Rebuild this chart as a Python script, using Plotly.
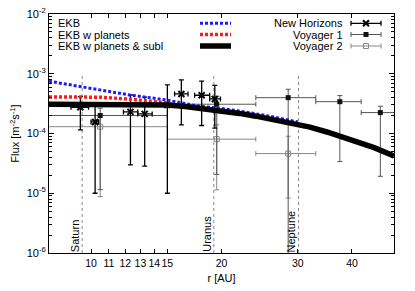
import math
import plotly.graph_objects as go

# ---------------- data ----------------
# model curves (r in AU, flux in m^-2 s^-1)
ekb_r = [8, 9.5, 12.3, 14.9, 17.8, 20, 22, 26, 30]
ekb_f = [7.5e-4, 6.0e-4, 4.4e-4, 3.65e-4, 2.85e-4, 2.62e-4, 2.38e-4, 1.93e-4, 1.56e-4]

ekbp_r = [8, 10.5, 12.3, 13.7, 14.7, 16]
ekbp_f = [4.1e-4, 4.05e-4, 3.75e-4, 3.5e-4, 3.3e-4, 2.95e-4]

ekbs_r = [8, 9, 10, 11, 12, 13, 14, 15, 16.5, 18.5, 20, 22, 24, 26, 28, 30, 32, 35, 38, 42, 45, 50]
ekbs_f = [3.10e-4, 3.10e-4, 3.10e-4, 3.09e-4, 3.08e-4, 3.06e-4, 3.04e-4, 3.0e-4, 2.84e-4,
          2.6e-4, 2.42e-4, 2.17e-4, 1.95e-4, 1.75e-4, 1.58e-4, 1.43e-4, 1.28e-4, 1.06e-4,
          8.8e-5, 7.1e-5, 5.8e-5, 4.2e-5]

# New Horizons
nh_r = [9.45, 10.22, 12.33, 13.3, 15.0, 16.16, 18.0, 19.3]
nh_r_lo = [8.99, 10.0, 11.88, 12.82, 14.8, 15.59, 17.34, 18.78]
nh_r_hi = [9.87, 10.41, 12.82, 13.84, 15.2, 16.74, 18.78, 19.89]
nh_f = [2.75e-4, 1.56e-4, 2.30e-4, 2.13e-4, 3.0e-4, 4.59e-4, 4.37e-4, 3.79e-4]
nh_f_lo = [1.15e-4, 1.0e-5, 2.98e-5, 2.84e-5, 1.0e-5, 1.39e-4, 1.36e-4, 1.23e-4]
nh_f_hi = [4.14e-4, 3.25e-4, 4.41e-4, 4.05e-4, 6.5e-4, 7.87e-4, 7.5e-4, 6.37e-4]

# Voyager 1
v1_r = [10.5, 19.5, 28.5, 37.5, 46.5]
v1_r_lo = [6.0, 15.0, 24.0, 33.0, 42.0]
v1_r_hi = [15.0, 24.0, 33.0, 42.0, 51.0]
v1_f = [2.0e-4, 3.09e-4, 3.98e-4, 3.41e-4, 2.24e-4]
v1_f_lo = [1.15e-5, 2.07e-5, 5e-7, 3.39e-5, 1.92e-5]
v1_f_hi = [2.65e-4, 4.2e-4, 5.5e-4, 4.31e-4, 2.86e-4]

# Voyager 2
v2_r = [10.5, 19.5, 28.5]
v2_r_lo = [6.0, 15.0, 24.0]
v2_r_hi = [15.0, 24.0, 33.0]
v2_f = [1.3e-4, 8.04e-5, 4.61e-5]
v2_f_lo = [8.8e-6, 1.14e-5, 8.3e-6]
v2_f_hi = [2.0e-4, 1.4e-4, 9.0e-5]

# planets
planets = ["Saturn", "Uranus", "Neptune"]
planet_r = [9.54, 19.2, 30.1]

x_ticks = [10, 11, 12, 13, 14, 15, 20, 30, 40]
y_ticks = [1e-6, 1e-5, 1e-4, 1e-3, 1e-2]
y_ticktext = ["10<sup>-6</sup>", "10<sup>-5</sup>", "10<sup>-4</sup>", "10<sup>-3</sup>", "10<sup>-2</sup>"]

model_names = ["EKB", "EKB w planets", "EKB w planets & subl"]
data_names = ["New Horizons", "Voyager 1", "Voyager 2"]

FONT = "Liberation Sans, Arial, sans-serif"
V1C = "#555555"
V2C = "#888888"


def diff(a, b):
    return [x - y for x, y in zip(a, b)]


fig = go.Figure()

# planet lines
for name, r in zip(planets, planet_r):
    fig.add_trace(go.Scatter(x=[r, r], y=[1e-6, 1e-3], mode="lines",
                             line=dict(color="#888888", width=1, dash="3px,3px"),
                             showlegend=False, hoverinfo="skip"))

# Voyager 2
fig.add_trace(go.Scatter(
    x=v2_r, y=v2_f, mode="markers",
    marker=dict(symbol="square-open", size=5, color=V2C, line=dict(width=1, color=V2C)),
    error_x=dict(type="data", symmetric=False, array=diff(v2_r_hi, v2_r),
                 arrayminus=diff(v2_r, v2_r_lo), color=V2C, thickness=1, width=2.5),
    error_y=dict(type="data", symmetric=False, array=diff(v2_f_hi, v2_f),
                 arrayminus=diff(v2_f, v2_f_lo), color=V2C, thickness=1, width=2.5),
    showlegend=False))

# Voyager 1
fig.add_trace(go.Scatter(
    x=v1_r, y=v1_f, mode="markers",
    marker=dict(symbol="square", size=5, color="#111111"),
    error_x=dict(type="data", symmetric=False, array=diff(v1_r_hi, v1_r),
                 arrayminus=diff(v1_r, v1_r_lo), color=V1C, thickness=1, width=2.5),
    error_y=dict(type="data", symmetric=False, array=diff(v1_f_hi, v1_f),
                 arrayminus=diff(v1_f, v1_f_lo), color=V1C, thickness=1, width=2.5),
    showlegend=False))

# New Horizons
fig.add_trace(go.Scatter(
    x=nh_r, y=nh_f, mode="markers",
    marker=dict(symbol="x-thin", size=6, color="black", line=dict(width=2, color="black")),
    error_x=dict(type="data", symmetric=False, array=diff(nh_r_hi, nh_r),
                 arrayminus=diff(nh_r, nh_r_lo), color="black", thickness=1.3, width=2.5),
    error_y=dict(type="data", symmetric=False, array=diff(nh_f_hi, nh_f),
                 arrayminus=diff(nh_f, nh_f_lo), color="black", thickness=1.3, width=2.5),
    showlegend=False))

# models
model_styles = [
    dict(color="#1a1aff", width=3, dash="3px,2px"),
    dict(color="#ff1a1a", width=3.5, dash="3px,2px"),
    dict(color="black", width=5.5),
]
for xs, ys, st in zip([ekb_r, ekbp_r, ekbs_r], [ekb_f, ekbp_f, ekbs_f], model_styles):
    fig.add_trace(go.Scatter(x=xs, y=ys, mode="lines", line=st, showlegend=False,
                             hoverinfo="skip"))

# -------- manual legend on a pixel-like overlay axis --------
rows = [23.3, 34.5, 46]
for yv, st in zip(rows, model_styles):
    fig.add_trace(go.Scatter(x=[200, 231], y=[yv, yv], mode="lines", line=st,
                             xaxis="x2", yaxis="y2", showlegend=False, hoverinfo="skip"))

leg_markers = [
    dict(symbol="x-thin", size=6, color="black", line=dict(width=2, color="black")),
    dict(symbol="square", size=5, color="#111111"),
    dict(symbol="square-open", size=5, color=V2C, line=dict(width=1, color=V2C)),
]
leg_err_col = ["black", V1C, V2C]
for yv, mk, ec in zip(rows, leg_markers, leg_err_col):
    fig.add_trace(go.Scatter(x=[366], y=[yv], mode="markers", marker=mk,
                             error_x=dict(type="constant", value=15, color=ec,
                                          thickness=1.3 if ec == "black" else 1, width=2.5),
                             xaxis="x2", yaxis="y2", showlegend=False, hoverinfo="skip"))

annotations = []
for name, yv in zip(model_names, rows):
    annotations.append(dict(x=56, y=yv, xref="x2", yref="y2", text=name, showarrow=False,
                            xanchor="left", yanchor="middle",
                            font=dict(family=FONT, size=11, color="black")))
for name, yv in zip(data_names, rows):
    annotations.append(dict(x=345, y=yv, xref="x2", yref="y2", text=name, showarrow=False,
                            xanchor="right", yanchor="middle",
                            font=dict(family=FONT, size=11, color="black")))
for name, r in zip(planets, planet_r):
    annotations.append(dict(x=math.log10(r), y=-6, xref="x", yref="y", text=name,
                            showarrow=False, textangle=-90, xanchor="right", yanchor="bottom",
                            xshift=0, yshift=0, borderpad=0,
                            font=dict(family=FONT, size=11, color="black")))

minor_y = [m * 10 ** e for e in range(-6, -2) for m in range(2, 10)]

fig.update_layout(
    width=415, height=291,
    margin=dict(l=49, r=21, t=14, b=38, autoexpand=False),
    paper_bgcolor="white", plot_bgcolor="white",
    font=dict(family=FONT, size=11, color="black"),
    showlegend=False,
    hovermode=False,
    annotations=annotations,
    xaxis=dict(type="log", range=[math.log10(8), math.log10(50)],
               tickmode="array", tickvals=x_ticks, ticktext=[str(t) for t in x_ticks],
               tickangle=0, automargin=False,
               ticks="inside", ticklen=4, tickcolor="black", tickwidth=1,
               showline=True, linecolor="black", linewidth=1, mirror="allticks",
               showgrid=False, zeroline=False,
               tickfont=dict(family=FONT, size=10.5),
               title=dict(text="r [AU]", font=dict(family=FONT, size=11), standoff=6)),
    yaxis=dict(type="log", range=[-6, -2],
               tickmode="array", tickvals=y_ticks, ticktext=y_ticktext,
               tickangle=0, automargin=False,
               ticks="inside", ticklen=5, tickcolor="black", tickwidth=1,
               minor=dict(tickmode="array", tickvals=minor_y, ticks="inside", ticklen=3,
                          tickcolor="black", showgrid=False),
               showline=True, linecolor="black", linewidth=1, mirror="allticks",
               showgrid=False, zeroline=False,
               tickfont=dict(family=FONT, size=11),
               title=dict(text="Flux [m<sup>-2</sup>s<sup>-1</sup>]",
                          font=dict(family=FONT, size=11), standoff=4)),
    xaxis2=dict(overlaying="x", range=[49, 394], visible=False, fixedrange=True,
                automargin=False),
    yaxis2=dict(overlaying="y", range=[253, 14], visible=False, fixedrange=True,
                automargin=False),
)

# remove the default 8px body margin so the figure sits at the window's corner
fig.write_html("out.html", config={"displayModeBar": False, "staticPlot": True},
               post_script="document.body.style.margin='0';document.body.style.overflow='hidden';")
